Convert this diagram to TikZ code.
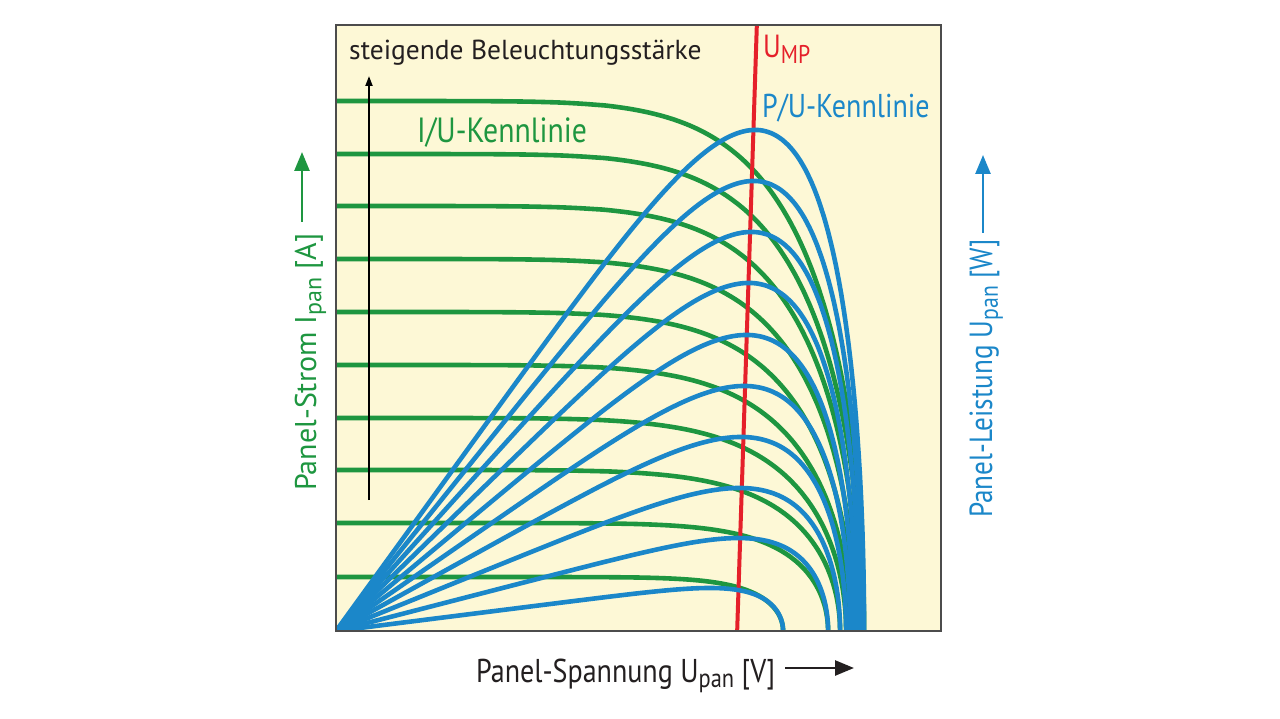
\documentclass[tikz,border=0pt]{standalone}
\usepackage{fontspec}
\usepackage{graphicx}
\setmainfont{PT Sans}
\newfontfamily\normf{PT Sans}
\newfontfamily\condf{PT Sans}[FakeStretch=0.85]
\newcommand\sbs[1]{\raisebox{-0.18em}{\scalebox{0.8}{#1}}}
\usetikzlibrary{arrows.meta}
\definecolor{bgy}{HTML}{FDF8D6}
\definecolor{cgreen}{HTML}{1E9640}
\definecolor{cblue}{HTML}{1B87C9}
\definecolor{cred}{HTML}{E5202A}
\definecolor{ctext}{HTML}{231F20}
\begin{document}
\begin{tikzpicture}[x=1pt,y=-1pt,
  ivline/.style={cgreen,line width=4.6pt},
  pvline/.style={cblue,line width=4.6pt},
  mpline/.style={cred,line width=4pt},
  frame/.style={draw=black!70,line width=1.8pt,fill=bgy},
  lbl/.style={inner sep=0pt},
  axarrow/.style={line width=2.6pt,-{Triangle[length=19pt,width=15pt]}}]
\useasboundingbox (0,0) rectangle (1280,719);
\fill[white] (0,0) rectangle (1280,719);
\draw[frame] (336,25) rectangle (941,631);
\coordinate (O) at (336,631);
\begin{scope}
\clip (336,25) rectangle (941,631);
% Isc / Uoc / exponent 2/n
\foreach \isc/\uoc/\ex in {54/447/0.2,108/492/0.25,161/504/0.3077,213/510/0.33333,266/514/0.33333,319/517/0.33333,372/520/0.33333,425/523/0.33333,477/526/0.33333,530/528/0.33333}{
  \draw[ivline] (336,631-\isc) -- plot[domain=0.3:90,samples=140,variable=\t]
    ({336+\uoc*(sin(\t))^(\ex)},{631-\isc*cos(\t)});
}
\draw[mpline] (757,20) -- (737,636);
% peak height / Uoc / exponent / normalisation
\foreach \h/\uoc/\ex/\nm in {43/447/0.2/0.7632,93/492/0.25/0.7318,143/504/0.3077/0.700,194/510/0.33333/0.6874,245/514/0.33333/0.6874,296/517/0.33333/0.6874,348/520/0.33333/0.6874,399/523/0.33333/0.6874,450/526/0.33333/0.6874,501/528/0.33333/0.6874}{
  \draw[pvline] (O) -- plot[domain=0.3:90,samples=140,variable=\t]
    ({336+\uoc*(sin(\t))^(\ex)},{631-\h/\nm*(sin(\t))^(\ex)*cos(\t)});
}
\end{scope}
\draw[frame,fill=none] (336,25) rectangle (941,631);
% labels
\node[lbl,anchor=base west,text=ctext,font=\normf\fontsize{27.5}{30}\selectfont] (ill) at (349,60) {steigende Beleuchtungsstärke};
\coordinate (illS) at (369,500);
\coordinate (illE) at (369,76);
\draw[line width=2pt,-{Triangle[length=10pt,width=7pt]}] (illS) -- (illE);
\node[lbl,anchor=base west,text=cgreen,font=\condf\fontsize{35}{38}\selectfont] (iu) at (417,143) {I/U-Kennlinie};
\node[lbl,anchor=base west,text=cred,font=\condf\fontsize{32}{36}\selectfont] (ump) at (763,58) {U\sbs{MP}};
\node[lbl,anchor=base west,text=cblue,font=\condf\fontsize{33}{36}\selectfont] (pu) at (762,118) {P/U-Kennlinie};
\node[lbl,anchor=base west,text=ctext,font=\condf\fontsize{33}{36}\selectfont] (xl) at (476,682) {Panel-Spannung U\sbs{pan} [V]};
\coordinate (xaS) at (785,668);
\coordinate (xaE) at (854,668);
\draw[axarrow,ctext] (xaS) -- (xaE);
\node[lbl,rotate=90,anchor=base west,text=cgreen,font=\normf\fontsize{30}{33}\selectfont] (yl) at (316,491) {Panel-Strom I\sbs{pan} [A]};
\coordinate (ylS) at (302,222);
\coordinate (ylE) at (302,152);
\draw[axarrow,cgreen] (ylS) -- (ylE);
\node[lbl,rotate=90,anchor=base west,text=cblue,font=\condf\fontsize{32}{35}\selectfont] (yr) at (992,518) {Panel-Leistung U\sbs{pan} [W]};
\coordinate (yrS) at (983,233);
\coordinate (yrE) at (983,155);
\draw[axarrow,cblue] (yrS) -- (yrE);
\end{tikzpicture}
\end{document}
